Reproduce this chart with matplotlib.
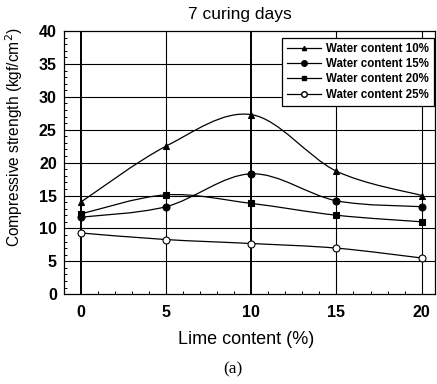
import matplotlib as mpl
import matplotlib.pyplot as plt
import numpy as np
from matplotlib.path import Path
from matplotlib.patches import PathPatch
from matplotlib.lines import Line2D
from matplotlib.ticker import MultipleLocator

mpl.rcParams.update({
    "font.family": ["Liberation Sans", "DejaVu Sans"],
    "font.size": 10,
    "axes.linewidth": 0.9,
})

# ── Data ──
lime = [0, 5, 10, 15, 20]
wc10 = [14.0, 22.5, 27.3, 18.7, 15.0]
wc15 = [11.7, 13.3, 18.3, 14.2, 13.3]
wc20 = [12.2, 15.1, 13.8, 12.0, 11.0]
wc25 = [9.3, 8.3, 7.7, 7.0, 5.5]
labels = ["Water content 10%", "Water content 15%", "Water content 20%", "Water content 25%"]
markers = ["^", "o", "s", "o"]
fills = ["black", "black", "black", "white"]
sizes = [4, 5, 4.5, 5]


def smooth_path(x, y, t=0.5):
    """Catmull-Rom curve through the points, as cubic Bezier segments."""
    x = np.asarray(x, float); y = np.asarray(y, float)
    p = np.column_stack([x, y])
    verts = [p[0]]; codes = [Path.MOVETO]
    n = len(p)
    for i in range(n - 1):
        p0 = p[i - 1] if i > 0 else p[i]
        p3 = p[i + 2] if i + 2 < n else p[i + 1]
        c1 = p[i] + (p[i + 1] - p0) * t / 3
        c2 = p[i + 1] - (p3 - p[i]) * t / 3
        verts += [c1, c2, p[i + 1]]
        codes += [Path.CURVE4] * 3
    return Path(verts, codes)


fig = plt.figure(figsize=(4.37, 3.84), dpi=100)
ax = fig.add_axes([0.146, 0.234, 0.85, 0.685])

ax.set_xlim(-1, 20.8)
ax.set_ylim(0, 40)
ax.xaxis.set_major_locator(MultipleLocator(5))
ax.yaxis.set_major_locator(MultipleLocator(5))
ax.yaxis.set_minor_locator(MultipleLocator(1))
ax.xaxis.set_minor_locator(MultipleLocator(1))
ax.tick_params(which="both", direction="in", top=False, right=False)
ax.tick_params(which="major", length=0, labelsize=11.5)
ax.tick_params(axis="x", which="major", pad=8)
ax.tick_params(axis="y", which="major", pad=5)
ax.tick_params(which="minor", length=2.5, width=0.7)
for lbl in ax.get_xticklabels() + ax.get_yticklabels():
    lbl.set_fontweight("bold")

# grid
for yv in range(5, 40, 5):
    ax.axhline(yv, color="black", lw=0.8, zorder=1)
for xv in lime:
    ax.axvline(xv, color="black", lw=1.4 if xv in (0, 10) else 0.8, zorder=1)

series = [wc10, wc15, wc20, wc25]
handles = []
for vals, lab, m, fc, ms in zip(series, labels, markers, fills, sizes):
    ax.add_patch(PathPatch(smooth_path(lime, vals), facecolor="none",
                           edgecolor="black", lw=0.9, zorder=3))
    ax.plot(lime, vals, linestyle="none", marker=m, ms=ms, mfc=fc,
            mec="black", mew=0.8, zorder=4)
    handles.append(Line2D([], [], color="black", lw=0.9, marker=m, ms=ms - 1,
                          mfc=fc, mec="black", label=lab))

leg = ax.legend(handles=handles, loc="upper right", bbox_to_anchor=(0.997, 0.975),
                fontsize=8.3, frameon=True, fancybox=False, edgecolor="black",
                framealpha=1, handlelength=2.9, handletextpad=0.45,
                borderpad=0.45, labelspacing=0.28, borderaxespad=0)
leg.get_frame().set_linewidth(0.9)
for t in leg.get_texts():
    t.set_fontweight("bold")

fig.text(0.549, 0.961, "7 curing days", ha="center", va="center", fontsize=12.5)
ax.set_xlabel("Lime content (%)", fontsize=13)
ax.xaxis.set_label_coords(0.49, -0.14)
ax.set_ylabel("Compressive strength (kgf/cm$^2$)", fontsize=11.2)
ax.yaxis.set_label_coords(-0.105, 0.595)
fig.text(0.533, 0.038, "(a)", ha="center", va="center", fontsize=12.5,
         family=["Liberation Serif", "DejaVu Serif"])

fig.savefig("out.png", dpi=100, facecolor="white")
